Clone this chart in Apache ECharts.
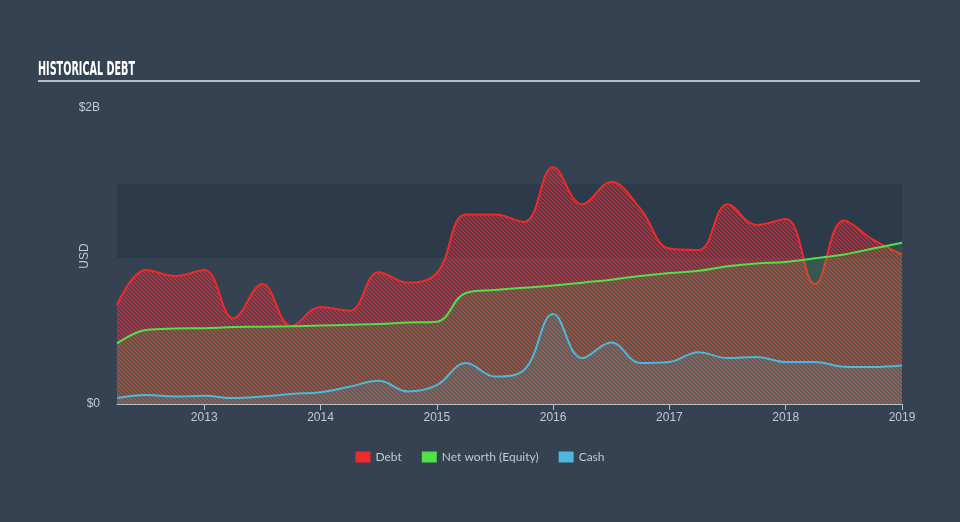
<!DOCTYPE html>
<html>
<head>
<meta charset="utf-8">
<script src="https://cdn.jsdelivr.net/npm/echarts@6/dist/echarts.min.js"></script>
<style>
html,body{margin:0;padding:0;background:#344252;}
#c{width:960px;height:522px;}
</style>
</head>
<body>
<div id="c"></div>
<script>
// Data (year fraction, value in USD billions)
const debtYears = [2012.25,2012.5,2012.75,2013.0,2013.25,2013.5,2013.75,2014.0,2014.25,2014.5,2014.75,2015.0,2015.25,2015.5,2015.75,2016.0,2016.25,2016.5,2016.75,2017.0,2017.25,2017.5,2017.75,2018.0,2018.25,2018.5,2018.75,2019.0];
const debtValues = [0.67,0.905,0.865,0.905,0.58,0.81,0.527,0.655,0.63,0.89,0.82,0.885,1.28,1.28,1.23,1.60,1.35,1.50,1.32,1.05,1.04,1.35,1.21,1.25,0.81,1.24,1.11,1.01];
const equityYears = debtYears;
const equityValues = [0.41,0.50,0.51,0.512,0.52,0.522,0.525,0.53,0.535,0.54,0.55,0.556,0.75,0.77,0.785,0.80,0.82,0.84,0.865,0.885,0.90,0.93,0.95,0.96,0.985,1.01,1.05,1.09];
const cashYears = debtYears;
const cashValues = [0.04,0.06,0.05,0.056,0.04,0.05,0.068,0.08,0.117,0.157,0.085,0.128,0.277,0.185,0.23,0.608,0.31,0.415,0.277,0.284,0.35,0.31,0.318,0.284,0.284,0.252,0.25,0.26];
const yearTicks = [2013,2014,2015,2016,2017,2018,2019];
const yTickLabels = ['$0','$2B'];
const bandRange = [0.986,1.486];

const B = 1e9;
const pair = (xs, vs) => xs.map((x,i)=>[x, vs[i]*B]);

function hatch(color, bg){
  const s = 4;
  const cv = document.createElement('canvas');
  cv.width = s; cv.height = s;
  const ctx = cv.getContext('2d');
  if (bg){ ctx.fillStyle = bg; ctx.fillRect(0,0,s,s); }
  ctx.strokeStyle = color; ctx.lineWidth = 1.4;
  ctx.beginPath();
  ctx.moveTo(-1,-1); ctx.lineTo(s+1,s+1);
  ctx.moveTo(-1,s-1); ctx.lineTo(1,s+1);
  ctx.moveTo(s-1,-1); ctx.lineTo(s+1,1);
  ctx.stroke();
  return {image: cv, repeat: 'repeat'};
}

const chart = echarts.init(document.getElementById('c'), null, {renderer:'canvas'});
const labelColor = '#c3c9d0';
chart.setOption({
  backgroundColor: '#344252',
  animation: false,
  graphic: [
    {type:'text', x:38, y:60, scaleX:0.67, scaleY:1.22, style:{text:'HISTORICAL DEBT', fill:'#ffffff', font:'bold 16px "DejaVu Sans Condensed", sans-serif', textVerticalAlign:'top'}},
    {type:'line', shape:{x1:38,y1:81,x2:920,y2:81}, style:{stroke:'#b4bcc6', lineWidth:2}}
  ],
  grid: {left:117, right:58, top:108, bottom:118},
  legend: {
    top: 446, left: 'center', itemWidth: 15, itemHeight: 11, itemGap: 20, icon: 'rect',
    textStyle: {color: labelColor, fontSize: 12, fontFamily: 'Lato, sans-serif'},
    data: ['Debt','Net worth (Equity)','Cash']
  },
  xAxis: {
    type:'value', min:2012.25, max:2019.0,
    axisLine:{show:true, lineStyle:{color:'#b9c0c8', width:1}},
    axisTick:{show:true, length:6, lineStyle:{color:'#b9c0c8'}, customValues: yearTicks},
    axisLabel:{color:labelColor, fontSize:12, margin:8, customValues: yearTicks, formatter: v=>String(Math.round(v))},
    splitLine:{show:false}
  },
  yAxis: {
    type:'value', min:0, max:2*B, interval:2*B,
    name:'USD', nameLocation:'middle', nameGap:26, nameMoveOverlap:false,
    nameTextStyle:{color:labelColor, fontSize:12},
    axisLine:{show:false}, axisTick:{show:false},
    axisLabel:{color:labelColor, fontSize:12, margin:17, formatter: v=> v===0 ? yTickLabels[0] : yTickLabels[1]},
    splitLine:{show:false}
  },
  series: [
    {
      name:'Debt', type:'line', smooth:0.4, symbol:'none',
      data: pair(debtYears, debtValues),
      lineStyle:{color:'#ee2a2a', width:2},
      itemStyle:{color:'#ee2a2a'},
      areaStyle:{color: hatch('rgba(225,50,60,0.8)','rgba(225,50,60,0.12)'), opacity:1},
      markArea:{silent:true, itemStyle:{color:'rgba(20,30,45,0.22)'}, data:[[{yAxis:bandRange[0]*B},{yAxis:bandRange[1]*B}]]},
      z:2
    },
    {
      name:'Net worth (Equity)', type:'line', smooth:0.4, symbol:'none',
      data: pair(equityYears, equityValues),
      lineStyle:{color:'#4fe04a', width:2},
      itemStyle:{color:'#4fe04a'},
      areaStyle:{color:'rgba(79,224,74,0.2)'},
      z:3
    },
    {
      name:'Cash', type:'line', smooth:0.4, symbol:'none',
      data: pair(cashYears, cashValues),
      lineStyle:{color:'#4ab9dd', width:2},
      itemStyle:{color:'#4ab9dd'},
      areaStyle:{color:'rgba(74,185,221,0.2)'},
      z:4
    }
  ]
});
</script>
</body>
</html>
